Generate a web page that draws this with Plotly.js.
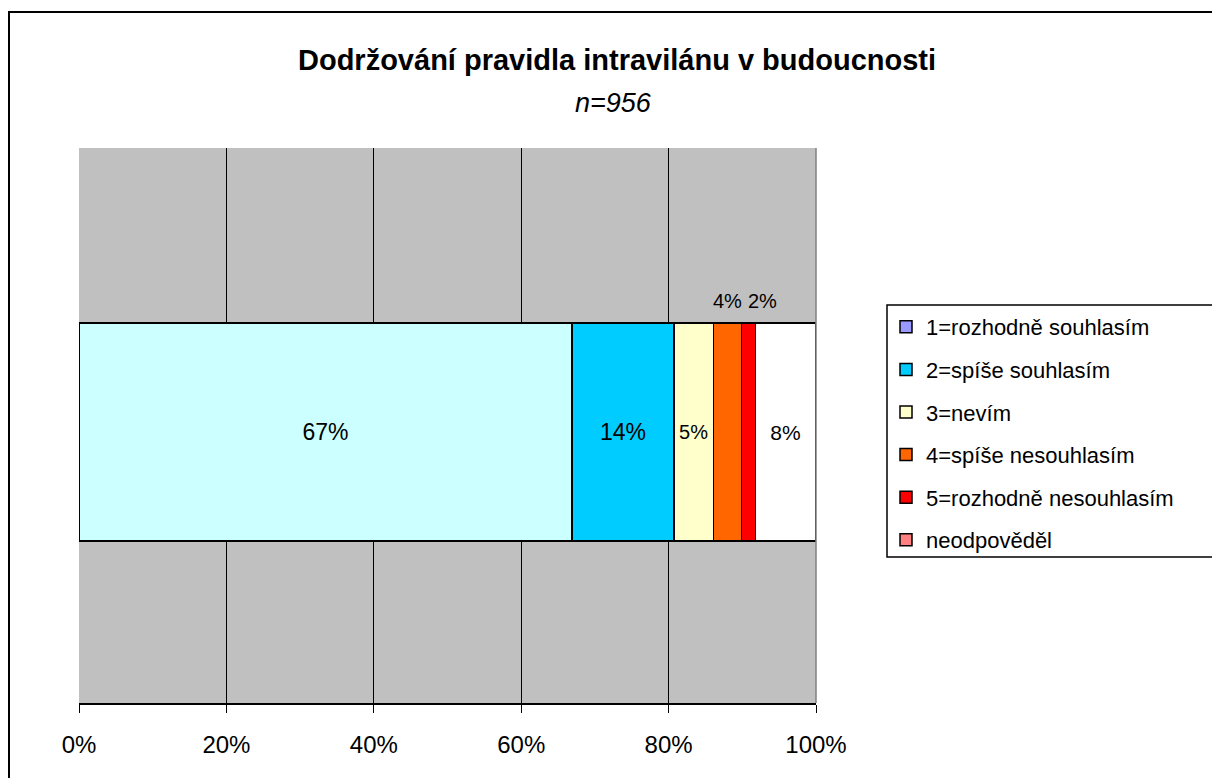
<!DOCTYPE html>
<html>
<head>
<meta charset="utf-8">
<script src="https://cdn.plot.ly/plotly-3.0.1.min.js"></script>
<style>html,body{margin:0;padding:0;background:#fff;}#chart{width:1212px;height:778px;}</style>
</head>
<body>
<div id="chart"></div>
<script>
var categories = ['1=rozhodně souhlasím','2=spíše souhlasím','3=nevím','4=spíše nesouhlasím','5=rozhodně nesouhlasím','neodpověděl'];
var values = [66.9, 13.8, 5.4, 3.8, 1.9, 8.1];
var barColors = ['#CCFFFF','#00CCFF','#FFFFCC','#FF6600','#FF0000','#FFFFFF'];
var legendColors = ['#9999FF','#00CCFF','#FFFFCC','#FF6600','#FF0000','#FF8080'];
var labelSizes = [23, 23, 20, 20, 20, 21];
var insideLabel = [true, true, true, false, false, true];
var tickVals = [0, 20, 40, 60, 80, 100];
var tickText = ['0%','20%','40%','60%','80%','100%'];

var FONT = 'Arial, "Liberation Sans", sans-serif';
var traces = [];
var annotations = [];
var cum = 0;
for (var i = 0; i < categories.length; i++) {
  var lbl = Math.round(values[i]) + '%';
  traces.push({
    type: 'bar', orientation: 'h', y: [0], x: [values[i]], width: 0.393,
    name: categories[i], showlegend: false,
    marker: {color: barColors[i], line: {color: '#000', width: 1.5}},
    text: [insideLabel[i] ? lbl : ''], textposition: 'inside', insidetextanchor: 'middle',
    textangle: 0, constraintext: 'none',
    textfont: {family: FONT, size: labelSizes[i], color: '#000'},
    hoverinfo: 'name+x'
  });
  if (!insideLabel[i]) {
    annotations.push({x: cum + values[i] / 2, y: 0.236, xref: 'x', yref: 'y', text: lbl,
      showarrow: false, xshift: (i === 4 ? 14 : 0), font: {family: FONT, size: 20, color: '#000'}});
  }
  cum += values[i];
}
for (var j = 0; j < categories.length; j++) {
  traces.push({
    type: 'bar', orientation: 'h', y: [null], x: [null], name: categories[j],
    legendgroup: 'g' + j, showlegend: true,
    marker: {color: legendColors[j], line: {color: '#000', width: 1.5}}
  });
}
annotations.push({text: '<b>Dodržování pravidla intravilánu v budoucnosti</b>', xref: 'paper', yref: 'paper',
  x: (617 - 79) / 737, y: (703 - 60) / 555, showarrow: false, xanchor: 'center', yanchor: 'middle',
  font: {family: FONT, size: 29, color: '#000'}});
annotations.push({text: '<i>n=956</i>', xref: 'paper', yref: 'paper',
  x: (613 - 79) / 737, y: (703 - 103) / 555, showarrow: false, xanchor: 'center', yanchor: 'middle',
  font: {family: FONT, size: 27, color: '#000'}});

var layout = {
  width: 1212, height: 778,
  margin: {l: 79, r: 396, t: 148, b: 75},
  barmode: 'stack',
  paper_bgcolor: '#fff', plot_bgcolor: '#C0C0C0',
  font: {family: FONT, color: '#000'},
  xaxis: {range: [0, 100], tickvals: tickVals, ticktext: tickText, showgrid: true, gridcolor: '#000', gridwidth: 1,
    zeroline: false, showline: true, linecolor: '#000', linewidth: 1.5, ticks: 'outside', ticklen: 8, tickcolor: '#000',
    tickfont: {family: FONT, size: 24, color: '#000'}, ticklabelstandoff: 12, fixedrange: true},
  yaxis: {range: [-0.488, 0.512], showticklabels: false, showgrid: false, zeroline: false, showline: false, fixedrange: true},
  legend: {x: (886 - 79) / 737, y: (703 - 306) / 555, xanchor: 'left', yanchor: 'top',
    bgcolor: 'rgba(0,0,0,0)', borderwidth: 0, traceorder: 'grouped', tracegroupgap: 11,
    font: {family: FONT, size: 22, color: '#000'}},
  annotations: annotations,
  shapes: [
    {type: 'rect', xref: 'paper', yref: 'paper', x0: (9 - 79) / 737, x1: (1230 - 79) / 737,
      y0: (703 - 800) / 555, y1: (703 - 12) / 555, line: {color: '#000', width: 2}, fillcolor: 'rgba(0,0,0,0)', layer: 'above'},
    {type: 'rect', xref: 'paper', yref: 'paper', x0: (887 - 79) / 737, x1: (1230 - 79) / 737,
      y0: (703 - 557) / 555, y1: (703 - 305) / 555, line: {color: '#000', width: 1.5}, fillcolor: '#fff', layer: 'below'},
    {type: 'line', xref: 'paper', yref: 'paper', x0: 1, x1: 1, y0: 0, y1: 1, line: {color: '#808080', width: 1.5}}
  ],
  showlegend: true
};
Plotly.newPlot('chart', traces, layout, {displayModeBar: false, staticPlot: true});
</script>
</body>
</html>
